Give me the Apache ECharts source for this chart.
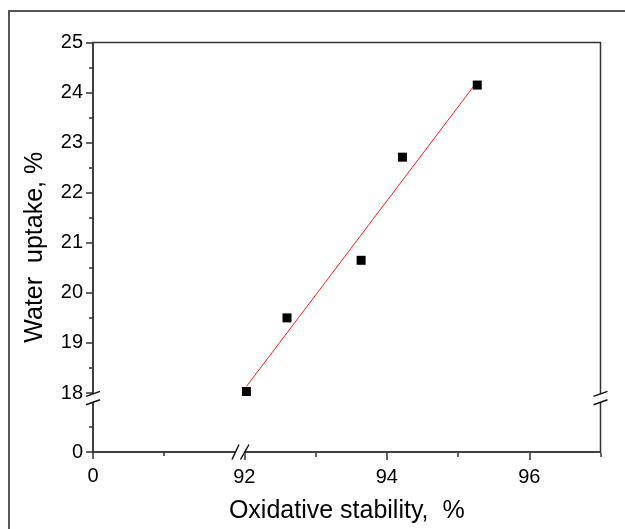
<!DOCTYPE html>
<html>
<head>
<meta charset="utf-8">
<script src="https://cdn.jsdelivr.net/npm/echarts@6/dist/echarts.min.js"></script>
<style>
html, body { margin: 0; padding: 0; background: #fff; }
#chart { width: 625px; height: 529px; }
</style>
</head>
<body>
<div id="chart"></div>
<script>
// measured points
var oxidative = [92.03, 92.60, 93.64, 94.22, 95.27]
var waterUptake = [18.03, 19.50, 20.65, 22.71, 24.15]
// ends of the fitted line
var fitX = [92.03, 95.27]
var fitY = [18.13, 24.22]

// upper (broken) segment ticks
var xTicks = [92, 94, 96]
var xMinorTicks = [93, 95, 97]
var yTicks = [18, 19, 20, 21, 22, 23, 24, 25]
var yMinorTicks = [18.5, 19.5, 20.5, 21.5, 22.5, 23.5, 24.5]
// lower segment ticks (before the break)
var lowTicks = [0]
var lowXMinor = [1]
var lowYMinor = [0.5]
// where the axes are broken
var xBreak = 91.94
var yBreak = 17.9

var font = 'Liberation Sans'
var lineColor = '#333'

function tickAxis(opt) {
  var ax = {
    type: 'value',
    gridIndex: opt.grid,
    position: opt.pos,
    min: opt.min,
    max: opt.max,
    offset: opt.offset || 0,
    axisLine: { show: !!opt.line, onZero: false, lineStyle: { color: lineColor, width: 1.5 } },
    axisTick: { show: true, inside: false, customValues: opt.ticks, length: opt.len, lineStyle: { color: lineColor, width: 1.5 } },
    axisLabel: opt.labels ? {
      customValues: opt.labels, fontFamily: font, fontSize: 20, color: '#000', margin: opt.margin
    } : { show: false },
    splitLine: { show: false }
  }
  if (opt.name) {
    ax.name = opt.name
    ax.nameLocation = 'middle'
    ax.nameGap = opt.nameGap
    ax.nameTextStyle = { fontFamily: font, fontSize: 25, color: '#000' }
  }
  return ax
}

var chart = echarts.init(document.getElementById('chart'))
chart.setOption({
  animation: false,
  backgroundColor: '#fff',
  grid: [
    // whole frame
    { left: 93, right: 24.5, top: 42.5, bottom: 76, show: true, borderColor: lineColor, borderWidth: 1.5 },
    // data region after the breaks
    { left: 240, right: 24.5, top: 42.5, bottom: 131 }
  ],
  xAxis: [
    tickAxis({ grid: 0, pos: 'bottom', min: 0, max: 7.15, line: true, ticks: lowTicks, len: 7, labels: lowTicks, margin: 14,
      name: 'Oxidative stability,  %', nameGap: 47 }),
    tickAxis({ grid: 0, pos: 'bottom', min: 0, max: 7.15, ticks: lowXMinor, len: 4 }),
    tickAxis({ grid: 1, pos: 'bottom', min: xBreak, max: 97, offset: 55, ticks: xTicks, len: 7, labels: xTicks, margin: 14 }),
    tickAxis({ grid: 1, pos: 'bottom', min: xBreak, max: 97, offset: 55, ticks: xMinorTicks, len: 4 })
  ],
  yAxis: [
    tickAxis({ grid: 0, pos: 'left', min: 0, max: 8.21, line: true, ticks: lowTicks, len: 7, labels: lowTicks, margin: 10,
      name: 'Water  uptake, %', nameGap: 45 }),
    tickAxis({ grid: 0, pos: 'left', min: 0, max: 8.21, ticks: lowYMinor, len: 4 }),
    tickAxis({ grid: 1, pos: 'left', min: yBreak, max: 25, offset: 147, ticks: yTicks, len: 7, labels: yTicks, margin: 10 }),
    tickAxis({ grid: 1, pos: 'left', min: yBreak, max: 25, offset: 147, ticks: yMinorTicks, len: 4 })
  ],
  series: [
    {
      type: 'line',
      xAxisIndex: 2,
      yAxisIndex: 2,
      data: fitX.map(function (x, i) { return [x, fitY[i]] }),
      showSymbol: false,
      lineStyle: { color: '#ff1a1a', width: 1 },
      z: 2
    },
    {
      type: 'scatter',
      xAxisIndex: 2,
      yAxisIndex: 2,
      data: oxidative.map(function (x, i) { return [x, waterUptake[i]] }),
      symbol: 'rect',
      symbolSize: 9,
      itemStyle: { color: '#000', opacity: 1 },
      z: 3
    }
  ]
})

// break marks and outer frame
var bx = chart.convertToPixel({ xAxisIndex: 2 }, xBreak)
var by = chart.convertToPixel({ yAxisIndex: 2 }, yBreak)
var left = chart.convertToPixel({ xAxisIndex: 0 }, 0)
var right = chart.convertToPixel({ xAxisIndex: 0 }, 7.15)
var bottom = chart.convertToPixel({ yAxisIndex: 0 }, 0)
var top = chart.convertToPixel({ yAxisIndex: 2 }, 25)

var marks = []
function hBreak(cx, cy) {
  marks.push({ type: 'rect', shape: { x: cx - 4.5, y: cy - 2.5, width: 9.2, height: 5 }, style: { fill: '#fff' }, z: 100 })
  marks.push({ type: 'line', shape: { x1: cx - 8, y1: cy + 7.5, x2: cx - 1, y2: cy - 7.5 }, style: { stroke: '#111', lineWidth: 1.5 }, z: 101 })
  marks.push({ type: 'line', shape: { x1: cx + 0.5, y1: cy + 7.5, x2: cx + 9, y2: cy - 7.5 }, style: { stroke: '#111', lineWidth: 1.5 }, z: 101 })
}
function vBreak(cx, cy) {
  marks.push({ type: 'rect', shape: { x: cx - 2.5, y: cy - 4, width: 5, height: 8 }, style: { fill: '#fff' }, z: 100 })
  marks.push({ type: 'line', shape: { x1: cx - 7, y1: cy - 1.6, x2: cx + 7, y2: cy - 6.6 }, style: { stroke: '#111', lineWidth: 1.5 }, z: 101 })
  marks.push({ type: 'line', shape: { x1: cx - 7, y1: cy + 6.7, x2: cx + 7, y2: cy + 1.7 }, style: { stroke: '#111', lineWidth: 1.5 }, z: 101 })
}
hBreak(bx, top)
hBreak(bx, bottom)
vBreak(left, by)
vBreak(right, by)
marks.push({ type: 'rect', shape: { x: 9, y: 11, width: 700, height: 600 }, style: { fill: null, stroke: '#555', lineWidth: 2 }, z: 100 })

chart.setOption({ graphic: marks })
</script>
</body>
</html>
